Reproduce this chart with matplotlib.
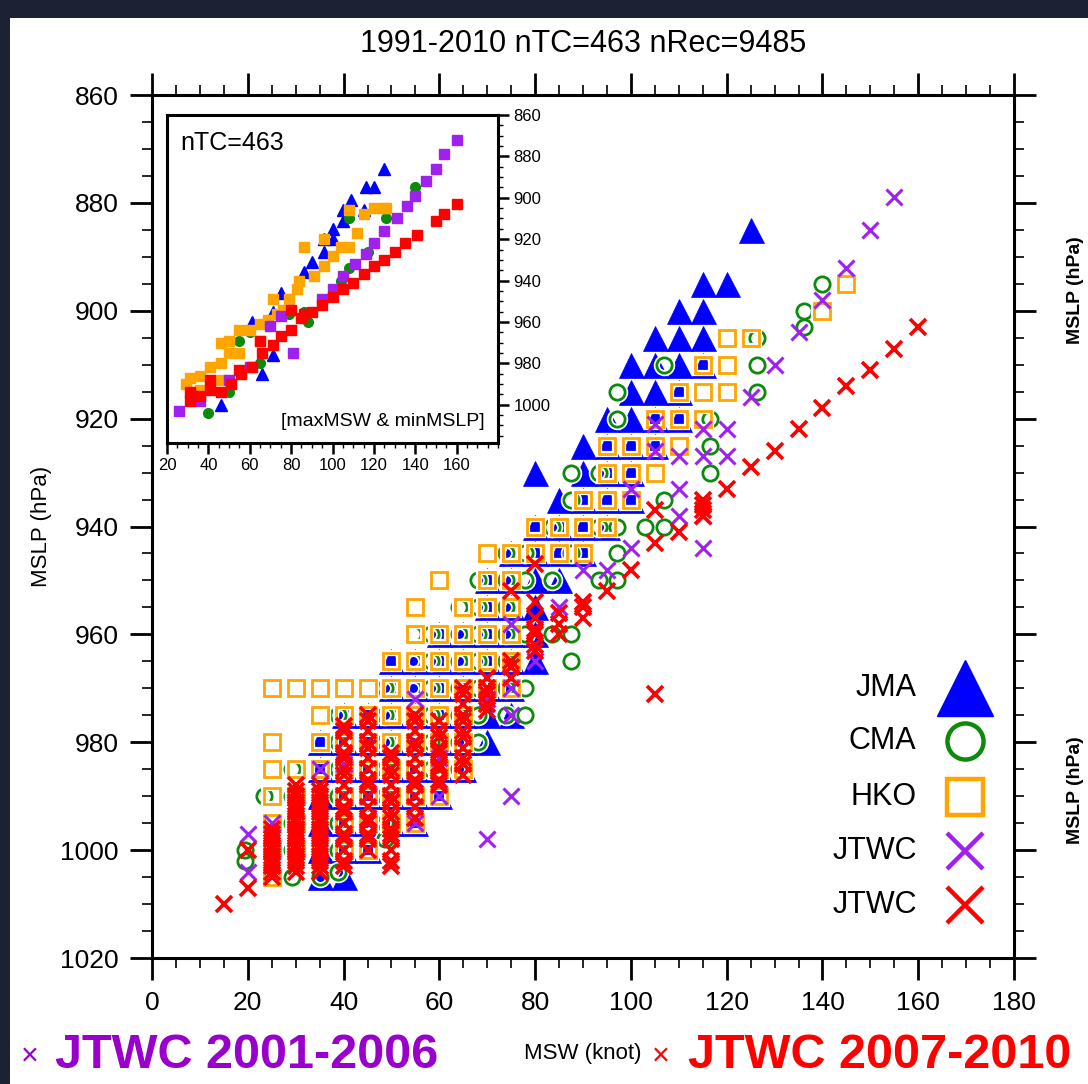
import matplotlib
matplotlib.use("Agg")
import matplotlib.pyplot as plt
from matplotlib.ticker import MultipleLocator, FixedLocator
from matplotlib.patches import Rectangle

plt.rcParams['font.family'] = ['Liberation Sans', 'DejaVu Sans']

# ---- main panel: columns of MSW (knot) with the MSLP (hPa) values seen in each ----
jma_kt = [35, 40, 45, 50, 55, 60, 65, 70, 75, 80, 85, 90, 95, 100, 105, 110, 115, 120, 125]
jma_hpa = [
    [980, 985, 990, 995, 1000, 1005],
    [975, 980, 985, 990, 995, 1000, 1005],
    [975, 980, 985, 990, 995, 1000],
    [965, 970, 975, 980, 985, 990, 995],
    [965, 970, 975, 980, 985, 990, 995],
    [960, 965, 970, 975, 980, 985, 990],
    [960, 965, 970, 975, 980, 985],
    [950, 955, 960, 965, 970, 975, 980],
    [945, 950, 955, 960, 965, 970, 975],
    [930, 940, 945, 950, 955, 960, 965],
    [935, 940, 945, 950],
    [925, 930, 935, 940, 945],
    [920, 925, 930, 935, 940],
    [910, 915, 920, 925, 930, 935],
    [905, 910, 915, 920, 925],
    [900, 905, 910, 915, 920],
    [895, 900, 905, 910],
    [895],
    [885],
]

cma_kt = [19.4, 23.3, 29.2, 35.0, 38.9, 44.7, 48.6, 54.4, 58.3, 64.2, 68.0, 73.9,
          77.8, 83.6, 87.5, 93.3, 97.2, 103.0, 106.9, 116.6, 126.4, 136.1, 140.0]
cma_hpa = [
    [1000, 1002],
    [990],
    [985, 990, 995, 1000, 1005],
    [1005],
    [975, 980, 985, 990, 995, 1000, 1004],
    [985, 995],
    [970, 975, 980, 985, 990, 995, 998],
    [960, 965, 970, 975, 980, 985, 990],
    [960, 965, 970, 975, 980, 985],
    [955, 960, 965, 970, 975, 980, 985],
    [950, 955, 960, 965, 970, 975, 980],
    [945, 950, 955, 960, 965, 970, 975],
    [945, 950, 960, 970, 975],
    [940, 950, 960],
    [930, 935, 945, 960, 965],
    [930, 940, 950],
    [915, 920, 940, 945, 950],
    [940],
    [910, 935, 940],
    [920, 925, 930],
    [905, 910, 915],
    [900, 903],
    [895],
]

hko_kt = [25, 30, 35, 40, 45, 50, 55, 60, 65, 70, 75, 80, 85, 90, 95, 100, 105,
          110, 115, 120, 125, 140, 145]
hko_hpa = [
    [970, 980, 985, 990, 995, 1000, 1005],
    [970, 985, 990, 995, 1000],
    [970, 975, 980, 985],
    [970, 975, 980, 985, 990, 995, 1000],
    [970, 975, 980, 985, 990, 995, 1000],
    [965, 970, 975, 980, 985, 990, 995],
    [955, 960, 965, 970, 975, 980, 985, 990, 995],
    [950, 960, 965, 970, 975, 980, 985, 990],
    [955, 960, 965, 970, 975, 980, 985],
    [945, 950, 955, 960, 965, 970],
    [945, 950, 955, 960, 965, 970],
    [940, 945],
    [940, 945],
    [935, 940, 945],
    [925, 930, 935, 940],
    [925, 930, 935],
    [920, 925, 930],
    [915, 920, 925],
    [910, 915, 920],
    [905, 910, 915],
    [905],
    [900],
    [895],
]

# JTWC 2001-2006 (kt, hPa)
jtwc1 = [(20, 997), (20, 1004), (25, 995), (25, 1000), (35, 985), (40, 984), (45, 990),
         (45, 994), (50, 991), (55, 972), (55, 980), (55, 995), (60, 983), (60, 990),
         (70, 972), (70, 998), (75, 958), (75, 970), (75, 975), (75, 990), (80, 965),
         (85, 955), (90, 948), (95, 948), (100, 933), (100, 944), (105, 921), (105, 926),
         (110, 927), (110, 933), (110, 938), (115, 922), (115, 927), (115, 938), (115, 944),
         (120, 922), (120, 927), (125, 916), (130, 910), (135, 904), (140, 898), (145, 892),
         (150, 885), (155, 879)]

# JTWC 2007-2010
jtwc2_kt = [15, 20, 25, 30, 35, 40, 45, 50, 55, 60, 65, 70, 75, 80, 85, 90, 95, 100,
            105, 110, 115, 120, 125, 130, 135, 140, 145, 150, 155, 160]
jtwc2_hpa = [
    [1010],
    [1000, 1007],
    [996, 997, 998, 999, 1000, 1001, 1002, 1003, 1004, 1005],
    [988, 989, 990, 991, 992, 993, 994, 995, 996, 997, 998, 999, 1000, 1001, 1002,
     1003, 1004],
    [988, 989, 990, 991, 992, 993, 994, 995, 996, 997, 998, 999, 1000, 1001, 1002,
     1003, 1004],
    [977, 978, 980, 982, 983, 985, 986, 988, 990, 992, 993, 995, 997, 998, 1000,
     1002, 1003],
    [975, 976, 978, 980, 981, 983, 985, 987, 988, 990, 992, 994, 995, 997, 998, 1000],
    [982, 983, 985, 986, 988, 990, 991, 993, 994, 996, 997, 998, 1000, 1002, 1003],
    [975, 976, 978, 980, 981, 983, 985, 987, 988, 990, 992, 994],
    [976, 978, 979, 981, 982, 984, 985, 987, 988],
    [970, 971, 973, 975, 976, 978, 979, 981, 983, 984, 986],
    [968, 970, 971, 973, 974],
    [952, 965, 966, 968],
    [947, 954, 957, 959, 960, 962, 963],
    [956, 958, 960],
    [954, 955, 957],
    [952],
    [948],
    [937, 943, 971],
    [941],
    [935, 936, 937, 938],
    [933], [929], [926], [922], [918], [914], [911], [907], [903],
]

# ---- inset: lifetime maxMSW & minMSLP per TC ----
in_jma = [(125, 886), (116, 895), (120, 895), (109, 901), (105, 906), (115, 906), (105, 911),
          (100, 915), (100, 920), (96, 920), (96, 926), (90, 931), (86, 936), (75, 946),
          (71, 955), (61, 960), (66, 985), (71, 976), (46, 1000)]
in_cma = [(140, 895), (136, 904), (126, 910), (117, 926), (108, 934), (104, 940), (108, 910),
          (86, 955), (88, 960), (69, 960), (79, 956), (60, 965), (55, 969), (65, 980),
          (50, 994), (40, 1004)]
in_hko = [(125, 905), (126, 905), (120, 905), (115, 908), (112, 917), (108, 924), (104, 924),
          (100, 928), (96, 933), (91, 938), (84, 940), (83, 944), (79, 949), (76, 954),
          (73, 956), (69, 959), (65, 961), (60, 964), (55, 964), (50, 969), (46, 970),
          (50, 975), (46, 980), (41, 982), (36, 986), (31, 987), (29, 990), (36, 993),
          (46, 988), (55, 975), (65, 969), (71, 949), (86, 924), (96, 920), (108, 906)]
in_jtwc1 = [(160, 872), (154, 879), (150, 886), (145, 892), (140, 899), (136, 904),
            (131, 910), (125, 916), (120, 922), (116, 927), (111, 932), (105, 938),
            (100, 944), (95, 949), (81, 975), (75, 957), (70, 962), (60, 982), (50, 988),
            (36, 998), (26, 1003)]
in_jtwc2 = [(160, 903), (154, 908), (150, 911), (141, 918), (135, 922), (130, 926),
            (125, 930), (120, 933), (115, 937), (110, 941), (105, 944), (100, 948),
            (95, 952), (90, 955), (85, 958), (80, 964), (75, 967), (71, 971), (66, 975),
            (61, 982), (56, 985), (51, 990), (46, 994), (41, 993), (36, 996), (31, 998),
            (80, 954), (86, 956), (65, 969), (55, 983), (41, 988), (31, 994)]

legend_names = ["JMA", "CMA", "HKO", "JTWC", "JTWC"]

BLUE = "#0000ff"
GREEN = "#0b8a0b"
ORANGE = "#ffa500"
PURPLE = "#a020f0"
RED = "#ff0000"


def expand(cols, vals):
    xs, ys = [], []
    for c, v in zip(cols, vals):
        xs += [c] * len(v)
        ys += list(v)
    return xs, ys


fig = plt.figure(figsize=(10.88, 10.84), dpi=100, facecolor="#1c2133")
fig.patches.append(Rectangle((10 / 1088, 0), 1, 1 - 18 / 1084, transform=fig.transFigure,
                             facecolor="white", edgecolor="none", zorder=-5))

ax = fig.add_axes([152 / 1088, 1 - 958 / 1084, 862 / 1088, 863 / 1084])
ax.set_xlim(0, 180)
ax.set_ylim(1020, 860)

x, y = expand(jma_kt, jma_hpa)
ax.plot(x, y, ls="none", marker="^", ms=18, mfc=BLUE, mec=BLUE, mew=0.5, zorder=3)
x, y = expand(cma_kt, cma_hpa)
ax.plot(x, y, ls="none", marker="o", ms=11, mfc="none", mec="white", mew=4.5, zorder=4)
ax.plot(x, y, ls="none", marker="o", ms=11, mfc="none", mec=GREEN, mew=2.0, zorder=4)
x, y = expand(hko_kt, hko_hpa)
ax.plot(x, y, ls="none", marker="s", ms=11.5, mfc="none", mec="white", mew=4.5, zorder=5)
ax.plot(x, y, ls="none", marker="s", ms=11.5, mfc="none", mec=ORANGE, mew=2.0, zorder=5)
ax.plot([p[0] for p in jtwc1], [p[1] for p in jtwc1], ls="none", marker="x", ms=11,
        mec=PURPLE, mew=2.2, zorder=6)
x, y = expand(jtwc2_kt, jtwc2_hpa)
ax.plot(x, y, ls="none", marker="x", ms=12, mec=RED, mew=2.6, zorder=7)

ax.xaxis.set_major_locator(MultipleLocator(20))
ax.xaxis.set_minor_locator(MultipleLocator(5))
ax.yaxis.set_major_locator(MultipleLocator(20))
ax.yaxis.set_minor_locator(MultipleLocator(5))
ax.tick_params(which="both", direction="out", top=True, right=True, labelsize=19, pad=8)
ax.tick_params(which="major", length=16, width=2)
ax.tick_params(which="minor", length=7, width=1.2)
for s in ax.spines.values():
    s.set_linewidth(2.2)
ax.set_xlabel("MSW (knot)", fontsize=16, labelpad=20)
ax.set_ylabel("MSLP (hPa)", fontsize=16, labelpad=6)
ax.set_title("1991-2010 nTC=463 nRec=9485", fontsize=22, pad=31)

# legend drawn by hand, labels right-aligned left of the symbols
leg_y = [0.3128, 0.2514, 0.1866, 0.124, 0.0614]
leg_style = [dict(marker="^", ms=41, mfc=BLUE, mec=BLUE),
             dict(marker="o", ms=26, mfc="none", mec=GREEN, mew=3.2),
             dict(marker="s", ms=26, mfc="none", mec=ORANGE, mew=3.2),
             dict(marker="x", ms=26, mec=PURPLE, mew=3.2),
             dict(marker="x", ms=26, mec=RED, mew=3.2)]
for name, yy, st in zip(legend_names, leg_y, leg_style):
    ax.text(0.887, yy, name, transform=ax.transAxes, ha="right", va="center", fontsize=22)
    ax.plot([0.943], [yy], transform=ax.transAxes, ls="none", clip_on=False, **st)

# ---- inset ----
ax2 = fig.add_axes([167 / 1088, 1 - 443 / 1084, 331 / 1088, 328 / 1084])
ax2.set_xlim(20, 180)
ax2.set_ylim(1018.5, 860)
ax2.plot([p[0] for p in in_jma], [p[1] for p in in_jma], ls="none", marker="^", ms=8.5,
         color=BLUE)
ax2.plot([p[0] for p in in_cma], [p[1] for p in in_cma], ls="none", marker="o", ms=7,
         color=GREEN)
ax2.plot([p[0] for p in in_hko], [p[1] for p in in_hko], ls="none", marker="s", ms=7,
         color=ORANGE)
ax2.plot([p[0] for p in in_jtwc1], [p[1] for p in in_jtwc1], ls="none", marker="s", ms=6.5,
         color=PURPLE)
ax2.plot([p[0] for p in in_jtwc2], [p[1] for p in in_jtwc2], ls="none", marker="s", ms=6.5,
         color=RED)
ax2.xaxis.set_major_locator(FixedLocator(range(20, 161, 20)))
ax2.xaxis.set_minor_locator(MultipleLocator(5))
ax2.yaxis.set_major_locator(FixedLocator(range(860, 1001, 20)))
ax2.yaxis.set_minor_locator(MultipleLocator(5))
ax2.yaxis.tick_right()
ax2.tick_params(which="both", direction="out", left=False, top=False, labelsize=12, pad=3)
ax2.tick_params(which="major", length=8, width=1.8)
ax2.tick_params(which="minor", length=3.5, width=1)
for s in ax2.spines.values():
    s.set_linewidth(2.2)
ax2.text(0.04, 0.95, "nTC=463", transform=ax2.transAxes, ha="left", va="top", fontsize=18)
ax2.text(0.96, 0.04, "[maxMSW & minMSLP]", transform=ax2.transAxes, ha="right",
         va="bottom", fontsize=14)

# ---- slide annotations ----
for yy in (290, 790):
    fig.text(1075 / 1088, 1 - yy / 1084, "MSLP (hPa)", rotation=90, ha="center",
             va="center", fontsize=14, fontweight="bold")
fig.text(30 / 1088, 1 - 1057 / 1084, "\u00d7", color="#9900cc", fontsize=22,
         ha="center", va="center")
fig.text(55 / 1088, 1 - 1055 / 1084, "JTWC 2001-2006", color="#9900cc", fontsize=35,
         fontweight="bold", ha="left", va="center")
fig.text(661 / 1088, 1 - 1057 / 1084, "\u00d7", color=RED, fontsize=22,
         ha="center", va="center")
fig.text(688 / 1088, 1 - 1055 / 1084, "JTWC 2007-2010", color=RED, fontsize=35,
         fontweight="bold", ha="left", va="center")

fig.savefig("out.png", dpi=100, facecolor=fig.get_facecolor())
